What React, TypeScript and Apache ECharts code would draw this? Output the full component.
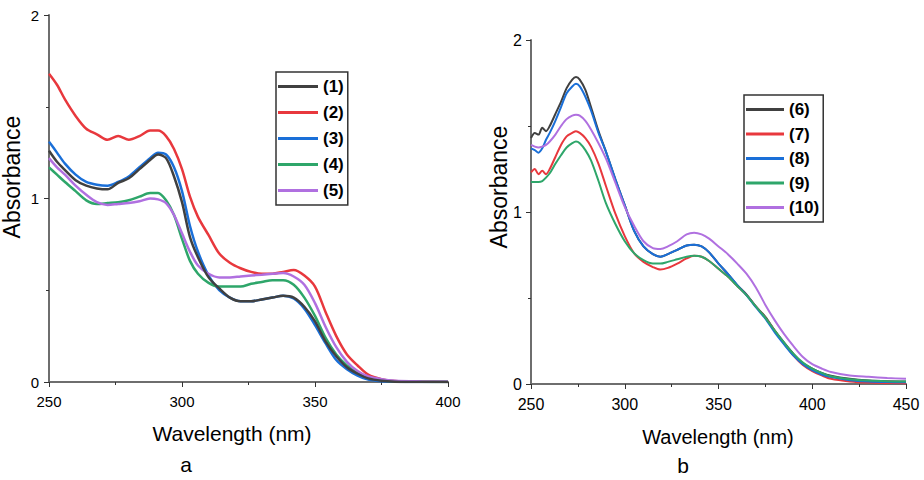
import React, { useEffect, useRef } from "react";
import * as echarts from "echarts";

// ---------- Panel a ----------
const wlA = [250, 253, 256, 260, 264, 268, 272, 276, 280, 284, 288, 291, 294, 297, 300, 303, 306, 310, 314, 318, 322, 326, 330, 334, 338, 342, 346, 350, 354, 358, 362, 366, 370, 375, 380, 390, 400];
const s1 = [1.26, 1.2, 1.155, 1.1, 1.07, 1.055, 1.05, 1.085, 1.11, 1.16, 1.21, 1.24, 1.22, 1.12, 0.98, 0.79, 0.68, 0.57, 0.51, 0.46, 0.44, 0.44, 0.45, 0.46, 0.47, 0.46, 0.41, 0.33, 0.22, 0.14, 0.08, 0.045, 0.02, 0.007, 0.002, 0, 0];
const s2 = [1.68, 1.62, 1.54, 1.45, 1.38, 1.35, 1.32, 1.34, 1.32, 1.34, 1.37, 1.37, 1.34, 1.27, 1.16, 1.01, 0.9, 0.8, 0.7, 0.65, 0.62, 0.6, 0.59, 0.59, 0.6, 0.61, 0.58, 0.52, 0.38, 0.25, 0.15, 0.09, 0.04, 0.015, 0.005, 0.002, 0];
const s3 = [1.31, 1.25, 1.19, 1.13, 1.09, 1.075, 1.07, 1.09, 1.12, 1.17, 1.22, 1.25, 1.24, 1.17, 1.04, 0.85, 0.71, 0.58, 0.5, 0.46, 0.44, 0.44, 0.45, 0.46, 0.47, 0.455, 0.4, 0.31, 0.21, 0.12, 0.07, 0.035, 0.013, 0.004, 0.001, 0, 0];
const s4 = [1.17, 1.13, 1.09, 1.04, 0.99, 0.97, 0.975, 0.98, 0.99, 1.01, 1.03, 1.03, 0.99, 0.91, 0.78, 0.66, 0.59, 0.54, 0.52, 0.52, 0.52, 0.535, 0.545, 0.555, 0.555, 0.53, 0.46, 0.36, 0.24, 0.15, 0.09, 0.05, 0.025, 0.01, 0.004, 0.001, 0];
const s5 = [1.22, 1.17, 1.13, 1.07, 1.02, 0.98, 0.965, 0.97, 0.975, 0.985, 1.0, 0.995, 0.975, 0.91, 0.81, 0.71, 0.635, 0.59, 0.57, 0.57, 0.575, 0.58, 0.585, 0.59, 0.594, 0.575, 0.53, 0.43, 0.3, 0.19, 0.11, 0.06, 0.03, 0.015, 0.007, 0.003, 0.001];

// ---------- Panel b ----------
const wlB = [250, 252, 254, 256, 258, 260, 263, 266, 269, 272, 274, 276, 279, 282, 286, 290, 295, 300, 305, 310, 315, 319, 323, 328, 333, 337, 341, 345, 350, 355, 360, 365, 370, 375, 380, 385, 390, 395, 400, 405, 410, 420, 430, 440, 450];
const s6 = [1.43, 1.46, 1.45, 1.49, 1.47, 1.5, 1.57, 1.64, 1.72, 1.77, 1.785, 1.77, 1.71, 1.61, 1.47, 1.35, 1.19, 1.04, 0.89, 0.8, 0.755, 0.74, 0.755, 0.78, 0.805, 0.81, 0.8, 0.765, 0.7, 0.64, 0.575, 0.52, 0.45, 0.39, 0.31, 0.24, 0.175, 0.12, 0.09, 0.065, 0.048, 0.03, 0.02, 0.016, 0.015];
const s7 = [1.23, 1.25, 1.22, 1.24, 1.22, 1.25, 1.32, 1.39, 1.44, 1.46, 1.47, 1.46, 1.43, 1.38, 1.28, 1.15, 0.99, 0.86, 0.76, 0.71, 0.68, 0.665, 0.675, 0.7, 0.73, 0.745, 0.74, 0.715, 0.67, 0.625, 0.57, 0.515, 0.45, 0.385, 0.31, 0.235, 0.165, 0.11, 0.075, 0.05, 0.03, 0.015, 0.008, 0.006, 0.005];
const s8 = [1.37, 1.36, 1.345, 1.37, 1.42, 1.46, 1.53, 1.61, 1.69, 1.73, 1.745, 1.73, 1.67, 1.59, 1.46, 1.35, 1.19, 1.04, 0.89, 0.8, 0.755, 0.74, 0.755, 0.78, 0.805, 0.81, 0.8, 0.765, 0.7, 0.64, 0.575, 0.515, 0.445, 0.38, 0.3, 0.23, 0.165, 0.115, 0.08, 0.055, 0.04, 0.022, 0.014, 0.011, 0.01];
const s9 = [1.175, 1.175, 1.175, 1.18, 1.2, 1.225, 1.28, 1.33, 1.375, 1.4, 1.41, 1.4, 1.36, 1.3, 1.18, 1.05, 0.93, 0.83, 0.76, 0.72, 0.7, 0.7, 0.71, 0.725, 0.74, 0.745, 0.74, 0.715, 0.67, 0.625, 0.57, 0.515, 0.45, 0.385, 0.31, 0.24, 0.175, 0.125, 0.09, 0.065, 0.045, 0.028, 0.02, 0.016, 0.014];
const s10 = [1.39, 1.38, 1.375, 1.38, 1.39, 1.41, 1.45, 1.5, 1.54, 1.56, 1.565, 1.56, 1.53, 1.48, 1.4, 1.31, 1.17, 1.03, 0.92, 0.83, 0.79, 0.785, 0.8, 0.83, 0.87, 0.88, 0.87, 0.845, 0.8, 0.755, 0.7, 0.64, 0.56, 0.46, 0.37, 0.29, 0.22, 0.157, 0.115, 0.09, 0.07, 0.05, 0.042, 0.035, 0.03];

const namesA = ["(1)", "(2)", "(3)", "(4)", "(5)"];
const namesB = ["(6)", "(7)", "(8)", "(9)", "(10)"];
const colors = ["#404040", "#e8383d", "#1a6fd8", "#2ea66a", "#b070e0"];

const FONT = "Liberation Sans, Arial, sans-serif";

function zip(xs: number[], ys: number[]) {
  return xs.map((x, i) => [x, ys[i]]);
}

export default function App() {
  const ref = useRef<HTMLDivElement>(null);
  useEffect(() => {
    document.body.style.margin = "0";
    const chart = echarts.init(ref.current!, null, { renderer: "svg" });
    const axisCommon = {
      type: "value" as const,
      axisLine: { show: true, lineStyle: { color: "#6e6e6e", width: 2 } },
      axisTick: { show: true, length: 5, lineStyle: { color: "#333", width: 1 } },
      minorTick: { show: true, splitNumber: 2, length: 3, lineStyle: { color: "#333", width: 1 } },
      splitLine: { show: false },
      minorSplitLine: { show: false },
    };
    const seriesA = [s1, s2, s3, s4, s5].map((s, i) => ({
      name: namesA[i],
      type: "line",
      xAxisIndex: 0,
      yAxisIndex: 0,
      data: zip(wlA, s),
      showSymbol: false,
      symbol: "none",
      smooth: 0.3,
      itemStyle: { color: colors[i] },
      lineStyle: { color: colors[i], width: 2.5 },
      z: i === 0 ? 3 : 2,
    }));
    const seriesB = [s6, s7, s8, s9, s10].map((s, i) => ({
      name: namesB[i],
      type: "line",
      xAxisIndex: 1,
      yAxisIndex: 1,
      data: zip(wlB, s),
      showSymbol: false,
      symbol: "none",
      smooth: 0.3,
      itemStyle: { color: colors[i] },
      lineStyle: { color: colors[i], width: 2 },
    }));
    const legendCommon = {
      orient: "vertical" as const,
      icon: "rect",
      itemWidth: 40,
      itemHeight: 3,
      borderColor: "#333",
      borderWidth: 1.5,
      borderRadius: 0,
      backgroundColor: "#fff",
      textStyle: { fontFamily: FONT, fontSize: 17, fontWeight: "bold" as const, color: "#000" },
    };
    chart.setOption({
      animation: false,
      backgroundColor: "#fff",
      grid: [
        { left: 49, top: 15, width: 399, height: 367 },
        { left: 531, top: 40, width: 375, height: 344 },
      ],
      xAxis: [
        {
          ...axisCommon,
          gridIndex: 0,
          min: 250,
          max: 400,
          interval: 50,
          axisLabel: { color: "#000", fontSize: 15, fontFamily: FONT, margin: 12 },
        },
        {
          ...axisCommon,
          gridIndex: 1,
          min: 250,
          max: 450,
          interval: 50,
          axisLabel: { color: "#000", fontSize: 16, fontFamily: FONT, margin: 12 },
        },
      ],
      yAxis: [
        {
          ...axisCommon,
          gridIndex: 0,
          min: 0,
          max: 2,
          interval: 1,
          axisLabel: { color: "#000", fontSize: 15, fontFamily: FONT, margin: 10 },
        },
        {
          ...axisCommon,
          gridIndex: 1,
          min: 0,
          max: 2,
          interval: 1,
          axisLabel: { color: "#000", fontSize: 16, fontFamily: FONT, margin: 9 },
        },
      ],
      legend: [
        {
          ...legendCommon,
          data: namesA,
          left: 276,
          top: 72,
          itemGap: 9,
          padding: [6, 4, 6, 2],
        },
        {
          ...legendCommon,
          data: namesB,
          left: 744,
          top: 95,
          itemGap: 7.5,
          padding: [6, 4, 6, 2],
          itemWidth: 38,
        },
      ],
      graphic: [
        {
          type: "text",
          x: 12,
          y: 177,
          rotation: Math.PI / 2,
          style: { text: "Absorbance", fontSize: 23, fontFamily: FONT, fill: "#000", align: "center", verticalAlign: "middle" },
        },
        {
          type: "text",
          x: 499,
          y: 187,
          rotation: Math.PI / 2,
          style: { text: "Absorbance", fontSize: 23, fontFamily: FONT, fill: "#000", align: "center", verticalAlign: "middle" },
        },
        {
          type: "text",
          x: 232,
          y: 433,
          style: { text: "Wavelength (nm)", fontSize: 21, fontFamily: FONT, fill: "#000", align: "center", verticalAlign: "middle" },
        },
        {
          type: "text",
          x: 718,
          y: 437,
          style: { text: "Wavelength (nm)", fontSize: 20, fontFamily: FONT, fill: "#000", align: "center", verticalAlign: "middle" },
        },
        {
          type: "text",
          x: 186,
          y: 464,
          style: { text: "a", fontSize: 21, fontFamily: FONT, fill: "#000", align: "center", verticalAlign: "middle" },
        },
        {
          type: "text",
          x: 683,
          y: 465,
          style: { text: "b", fontSize: 21, fontFamily: FONT, fill: "#000", align: "center", verticalAlign: "middle" },
        },
      ],
      series: [...seriesA, ...seriesB],
    });
    return () => chart.dispose();
  }, []);
  return <div ref={ref} style={{ width: 924, height: 480 }} />;
}
